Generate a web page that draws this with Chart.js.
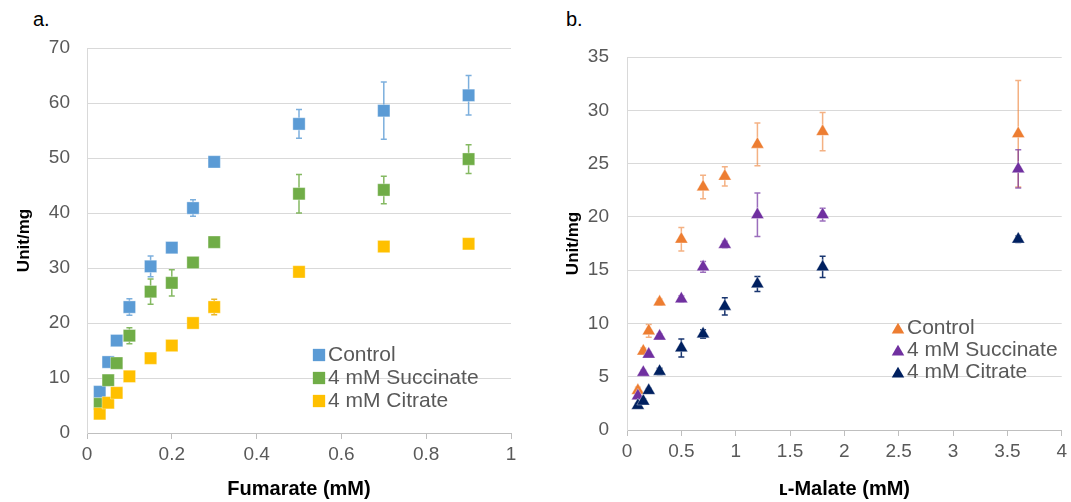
<!DOCTYPE html>
<html>
<head>
<meta charset="utf-8">
<script src="https://cdn.jsdelivr.net/npm/chart.js@4.4.1/dist/chart.umd.min.js"></script>
<style>
  body { margin: 0; background: #fff; width: 1071px; height: 502px; overflow: hidden; position: relative;
         font-family: "Liberation Sans", Arial, sans-serif; }
  canvas { position: absolute; top: 0; }
  #fumChart { left: 0; }
  #malChart { left: 540px; }
  .tag { position: absolute; top: 8px; font-size: 20px; color: #000; }
</style>
</head>
<body>
<div class="tag" style="left:33px">a.</div>
<div class="tag" style="left:566px">b.</div>
<canvas id="fumChart" width="540" height="502"></canvas>
<canvas id="malChart" width="531" height="502"></canvas>
<script>
/* global Chart */

// a. Fumarate
const fumarate = [0.03, 0.05, 0.07, 0.1, 0.15, 0.2, 0.25, 0.3, 0.5, 0.7, 0.9];
const fumControl = [7.5, 12.9, 16.8, 22.9, 30.3, 33.7, 40.9, 49.3, 56.2, 58.6, 61.4];
const fumControlErr = [0.4, 0.4, 0.4, 1.5, 1.9, 0.5, 1.5, 0.6, 2.6, 5.2, 3.6];
const fumSuccinate = [5.3, 9.6, 12.7, 17.7, 25.7, 27.3, 31.0, 34.7, 43.5, 44.2, 49.8];
const fumSuccinateErr = [0.3, 0.4, 0.4, 1.45, 2.3, 2.4, 0.5, 0.5, 3.5, 2.5, 2.6];
const fumCitrate = [3.5, 5.5, 7.3, 10.3, 13.6, 15.9, 20.0, 22.9, 29.3, 33.9, 34.4];
const fumCitrateErr = [0.3, 0.3, 0.3, 0.4, 0.4, 0.5, 0.5, 1.4, 0.5, 0.5, 0.7];

// b. L-Malate
const malate = [0.1, 0.15, 0.2, 0.3, 0.5, 0.7, 0.9, 1.2, 1.8, 3.6];
const malControl = [3.7, 7.4, 9.3, 12.0, 17.9, 22.8, 23.8, 26.8, 28.0, 27.8];
const malControlErr = [0.3, 0.3, 0.6, 0.3, 1.1, 1.1, 0.9, 2.0, 1.8, 5.0];
const malSuccinate = [3.2, 5.4, 7.1, 8.8, 12.3, 15.3, 17.4, 20.2, 20.2, 24.5];
const malSuccinateErr = [0.2, 0.2, 0.2, 0.2, 0.3, 0.5, 0.3, 2.05, 0.6, 1.8];
const malCitrate = [2.3, 2.7, 3.7, 5.5, 7.7, 9.0, 11.6, 13.7, 15.3, 17.9];
const malCitrateErr = [0.2, 0.2, 0.2, 0.3, 0.85, 0.4, 0.8, 0.7, 1.0, 0.3];

const labels = ["Control", "4 mM Succinate", "4 mM Citrate"];

const FONT = '"Liberation Sans", Arial, sans-serif';
const GREY = "#595959";

// draws the +/- error bars under the markers
const errorBars = {
  id: "errorBars",
  beforeDatasetsDraw(chart) {
    const { ctx, scales: { x, y } } = chart;
    chart.data.datasets.forEach((ds) => {
      ctx.save();
      ctx.strokeStyle = ds.errorColor;
      ctx.lineWidth = 1.5;
      ds.data.forEach((p, j) => {
        const px = x.getPixelForValue(p.x);
        const top = y.getPixelForValue(p.y + ds.errors[j]);
        const bot = y.getPixelForValue(p.y - ds.errors[j]);
        ctx.beginPath();
        ctx.moveTo(px, top);
        ctx.lineTo(px, bot);
        ctx.moveTo(px - 3, top);
        ctx.lineTo(px + 3, top);
        ctx.moveTo(px - 3, bot);
        ctx.lineTo(px + 3, bot);
        ctx.stroke();
      });
      ctx.restore();
    });
  },
};

// legend sitting inside the plot area
const boxLegend = {
  id: "boxLegend",
  afterDraw(chart, args, opts) {
    const { ctx, chartArea } = chart;
    ctx.save();
    ctx.font = "21px " + FONT;
    ctx.textBaseline = "middle";
    chart.data.datasets.forEach((ds, i) => {
      const mx = chartArea.left + opts.x;
      const my = chartArea.top + opts.y + i * opts.step;
      ctx.fillStyle = ds.backgroundColor;
      ctx.strokeStyle = ds.backgroundColor;
      Chart.helpers.drawPoint(ctx, { pointStyle: ds.pointStyle, radius: opts.r, borderWidth: 0, rotation: 0 }, mx, my + opts.dy);
      ctx.fillStyle = GREY;
      ctx.fillText(ds.label, mx + 9, my);
    });
    ctx.restore();
  },
};

function makeSet(i, xs, ys, errs, color, errColor, style, radius) {
  return {
    label: labels[i],
    data: xs.map((x, j) => ({ x: x, y: ys[j] })),
    errors: errs,
    errorColor: errColor,
    backgroundColor: color,
    borderColor: "rgba(255,255,255,0.35)",
    borderWidth: 1,
    pointStyle: style,
    pointRadius: radius,
    order: 2 - i,
  };
}

function makeOptions(xMax, xStep, yMax, yStep, xTitle, yTitlePad, yTickPad, xHeight, top, right, legend) {
  return {
    responsive: false,
    animation: false,
    devicePixelRatio: 1,
    events: [],
    layout: { padding: { top: top, right: right, bottom: 0, left: 0 } },
    plugins: { legend: { display: false }, tooltip: { enabled: false }, boxLegend: legend },
    scales: {
      x: {
        type: "linear",
        min: 0,
        max: xMax,
        ticks: {
          stepSize: xStep,
          color: GREY,
          font: { family: FONT, size: 19 },
          padding: 4,
          callback: (v) => String(+v.toFixed(2)),
        },
        grid: { drawOnChartArea: false, drawTicks: true, tickLength: 6, color: "#bfbfbf" },
        border: { color: "#bfbfbf" },
        title: { display: true, text: xTitle, color: "#000", font: { family: FONT, size: 20, weight: "bold" }, padding: { top: 0, bottom: 1 } },
        afterFit: (s) => { s.height = xHeight; },
      },
      y: {
        min: 0,
        max: yMax,
        ticks: { stepSize: yStep, color: GREY, font: { family: FONT, size: 19 }, padding: yTickPad },
        grid: { color: "#d9d9d9", drawTicks: false },
        border: { color: "#d9d9d9" },
        title: { display: true, text: "Unit/mg", color: "#000", font: { family: FONT, size: 17, weight: "bold" }, padding: { top: yTitlePad, bottom: 0 } },
        afterFit: (s) => { s.width = 87; },
      },
    },
  };
}

new Chart(document.getElementById("fumChart"), {
  type: "scatter",
  data: {
    datasets: [
      makeSet(0, fumarate, fumControl, fumControlErr, "#5B9BD5", "rgba(91,155,213,0.8)", "rect", 8.7),
      makeSet(1, fumarate, fumSuccinate, fumSuccinateErr, "#70AD47", "rgba(112,173,71,0.85)", "rect", 8.7),
      makeSet(2, fumarate, fumCitrate, fumCitrateErr, "#FFC000", "rgba(230,170,0,0.85)", "rect", 8.7),
    ],
  },
  options: makeOptions(1, 0.2, 70, 10, "Fumarate (mM)", 14, 17, 69, 48, 29,
    { x: 232, y: 307, step: 23, r: 8.7, dy: 0 }),
  plugins: [errorBars, boxLegend],
});

new Chart(document.getElementById("malChart"), {
  type: "scatter",
  data: {
    datasets: [
      makeSet(0, malate, malControl, malControlErr, "#ED7D31", "rgba(237,125,49,0.6)", "triangle", 7.5),
      makeSet(1, malate, malSuccinate, malSuccinateErr, "#7030A0", "rgba(112,48,160,0.7)", "triangle", 7.5),
      makeSet(2, malate, malCitrate, malCitrateErr, "#002060", "rgba(0,32,96,0.9)", "triangle", 7.5),
    ],
  },
  options: makeOptions(4, 0.5, 35, 5, "\u029F-Malate (mM)", 23, 18, 72, 57, 9,
    { x: 271, y: 271, step: 22, r: 7.2, dy: 2 }),
  plugins: [errorBars, boxLegend],
});
</script>
</body>
</html>
